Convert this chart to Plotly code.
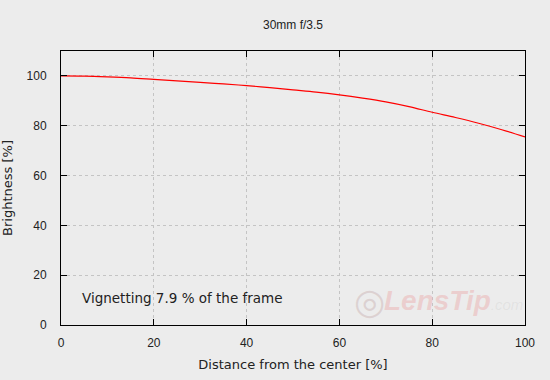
import plotly.graph_objects as go

distance = [0, 5, 10, 15, 20, 25, 30, 35, 40, 45, 50, 55, 60, 65, 70, 75, 80, 85, 90, 95, 100]
brightness = [100.0, 99.9, 99.6, 99.2, 98.6, 98.0, 97.4, 96.8, 96.1, 95.3, 94.4, 93.5, 92.4, 91.1, 89.6, 87.7, 85.4, 83.3, 81.0, 78.4, 75.5]
x_ticks = [0, 20, 40, 60, 80, 100]
y_ticks = [0, 20, 40, 60, 80, 100]

title = "30mm f/3.5"
note = "Vignetting 7.9 % of the frame"

bg = "#ececec"
font = "DejaVu Sans"
tickfont = "Liberation Sans"

fig = go.Figure()
fig.add_trace(go.Scatter(x=distance, y=brightness, mode="lines",
                         line=dict(color="#ff0000", width=1.2, shape="spline"),
                         hoverinfo="skip", showlegend=False))

axis_common = dict(
    showline=True, linecolor="black", linewidth=1, mirror="ticks",
    ticks="inside", ticklen=6, tickcolor="black", tickwidth=1,
    showgrid=True, gridcolor="#c4c4c4", griddash="dot", gridwidth=1,
    zeroline=False, automargin=False,
    tickfont=dict(family=tickfont, size=12, color="#222"),
)

fig.update_layout(
    width=550, height=380,
    margin=dict(l=61, r=25, t=51, b=55),
    paper_bgcolor=bg, plot_bgcolor=bg,
    font=dict(family=font, size=12, color="#222"),
    title=dict(text=title, xref="paper", x=0.5, xanchor="center", y=1 - 25 / 380, yanchor="middle",
               font=dict(family="Liberation Sans", size=12, color="#222")),
    xaxis=dict(range=[0, 100], tickvals=x_ticks, ticklabelstandoff=7,
               title=dict(text="Distance from the center [%]", standoff=10,
                          font=dict(family=font, size=13)),
               **axis_common),
    yaxis=dict(range=[0, 110], tickvals=y_ticks, ticklabelstandoff=11,
               title=dict(text="Brightness [%]", standoff=11,
                          font=dict(family=font, size=13)),
               **axis_common),
)

fig.add_annotation(text=note, xref="paper", yref="paper", x=0.042, y=0.1,
                   xanchor="left", yanchor="middle", showarrow=False,
                   font=dict(family=font, size=13.5, color="#222"))

fig.add_annotation(text="<b><i>LensTip</i></b><span style='font-size:15px;color:rgba(150,150,150,0.35)'><i>.com</i></span>",
                   xref="paper", yref="paper",
                   x=1.0, y=0.09, xanchor="right", yanchor="middle", showarrow=False,
                   font=dict(family="Liberation Sans", size=28, color="rgba(235,150,150,0.35)"))
fig.add_annotation(text="◎", xref="paper", yref="paper",
                   x=0.703, y=0.085, xanchor="right", yanchor="middle", showarrow=False,
                   font=dict(family=font, size=36, color="rgba(190,160,160,0.35)"))

fig.write_html("out.html", post_script="document.body.style.margin='0px';",
               config={"displayModeBar": False})
